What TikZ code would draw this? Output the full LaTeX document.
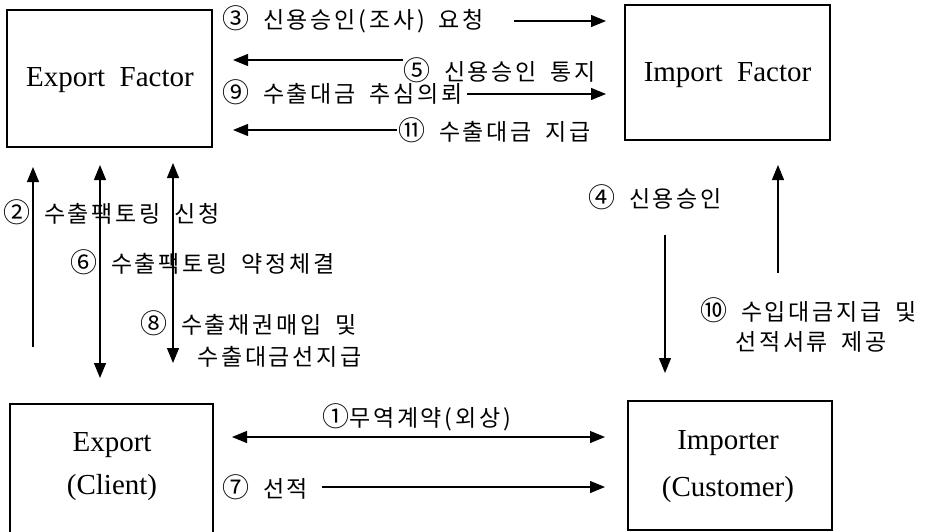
\documentclass[tikz,border=0pt]{standalone}
\usepackage{fontspec}
\setmainfont{Liberation Serif}
\newfontfamily\kr[LetterSpace=12]{Noto Sans CJK KR}
\usetikzlibrary{arrows.meta}
\newcommand\krlabfont{\kr\fontsize{23}{27}\selectfont\spaceskip 0.6em\relax}
\newcommand\entfont{\fontsize{29}{34}\selectfont\spaceskip 0.5em\relax}
\newcommand\cn[1]{{\fontsize{27}{27}\selectfont #1}}
\begin{document}
\begin{tikzpicture}[x=1pt,y=-1pt,
  box/.style={draw,line width=1.2pt,inner sep=0pt},
  lab/.style={font=\krlabfont,anchor=west,inner sep=0pt},
  ent/.style={font=\entfont,inner sep=0pt},
  tip/.tip={Triangle[length=15pt,width=12pt]},
  arr/.style={line width=1.2pt,-tip},
  darr/.style={line width=1.2pt,tip-tip}]
\useasboundingbox (0,0) rectangle (945,532);
% boxes
\node[box,minimum width=205pt,minimum height=137pt] (ef) at (109.5,78.5) {};
\node[box,minimum width=205pt,minimum height=135pt] (if) at (727.5,72.5) {};
\node[box,minimum width=203pt,minimum height=134pt] (ex) at (111.5,471) {};
\node[box,minimum width=204pt,minimum height=129pt] (im) at (730,465.5) {};
\node[ent] (eft) at (110,80) {Export Factor};
\node[ent] (ift) at (727.5,75) {Import Factor};
\node[ent] (ext1) at (112,445) {Export};
\node[ent] (ext2) at (112,488) {(Client)};
\node[ent] (imt1) at (728,443) {Importer};
\node[ent] (imt2) at (728,490) {(Customer)};
% coordinates
\coordinate (a3s) at (514,21);  \coordinate (a3e) at (606,21);
\coordinate (a5s) at (403,60);  \coordinate (a5e) at (233,60);
\coordinate (a9s) at (467,94);  \coordinate (a9e) at (606,94);
\coordinate (a11s) at (397,130); \coordinate (a11e) at (233,130);
\coordinate (a2s) at (33,347);  \coordinate (a2e) at (33,167);
\coordinate (a6s) at (100,165); \coordinate (a6e) at (100,378);
\coordinate (a8s) at (173,163); \coordinate (a8e) at (173,363);
\coordinate (a4s) at (665,235); \coordinate (a4e) at (665,373);
\coordinate (a10s) at (778,273); \coordinate (a10e) at (778,165);
\coordinate (a1s) at (232,437); \coordinate (a1e) at (605,437);
\coordinate (a7s) at (322,487); \coordinate (a7e) at (605,487);
% arrows
\draw[arr] (a3s) -- (a3e);
\draw[arr] (a5s) -- (a5e);
\draw[arr] (a9s) -- (a9e);
\draw[arr] (a11s) -- (a11e);
\draw[arr] (a2s) -- (a2e);
\draw[darr] (a6s) -- (a6e);
\draw[darr] (a8s) -- (a8e);
\draw[arr] (a4s) -- (a4e);
\draw[arr] (a10s) -- (a10e);
\draw[darr] (a1s) -- (a1e);
\draw[arr] (a7s) -- (a7e);
% labels
\node[lab] (l3) at (222,19) {\cn{③} 신용승인(조사) 요청};
\node[lab] (l5) at (403,70) {\cn{⑤} 신용승인 통지};
\node[lab] (l9) at (222,92) {\cn{⑨} 수출대금 추심의뢰};
\node[lab] (l11) at (398,130) {\cn{⑪} 수출대금 지급};
\node[lab] (l2) at (3,212) {\cn{②} 수출팩토링 신청};
\node[lab] (l6) at (70,262) {\cn{⑥} 수출팩토링 약정체결};
\node[lab] (l8) at (140,323) {\cn{⑧} 수출채권매입 및};
\node[lab] (l8b) at (197,357) {수출대금선지급};
\node[lab] (l4) at (588,197) {\cn{④} 신용승인};
\node[lab] (l10) at (700,310) {\cn{⑩} 수입대금지급 및};
\node[lab] (l10b) at (735,342) {선적서류 제공};
\node[lab] (l1) at (322,417) {\cn{①}무역계약(외상)};
\node[lab] (l7) at (222,487) {\cn{⑦} 선적};
\end{tikzpicture}
\end{document}
